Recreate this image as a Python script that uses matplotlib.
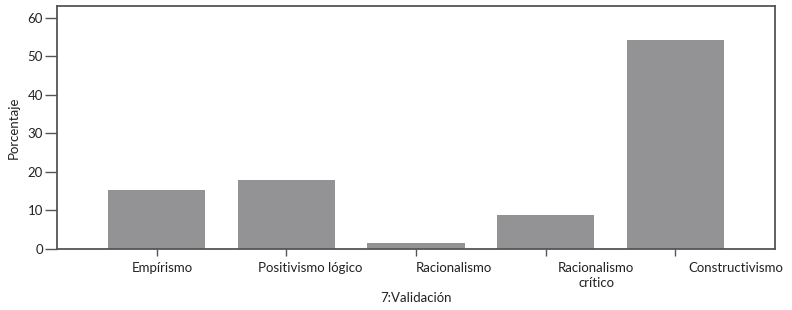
import matplotlib
matplotlib.use("Agg")
import matplotlib.pyplot as plt

categorias = ["Empírismo", "Positivismo lógico", "Racionalismo", "Racionalismo\ncrítico", "Constructivismo"]
porcentaje = [15.3, 18.0, 1.6, 8.8, 54.4]
yticks = [0, 10, 20, 30, 40, 50, 60]

plt.rcParams['font.family'] = ['Lato', 'DejaVu Sans']

fig = plt.figure(figsize=(7.92, 3.10), dpi=100)
ax = fig.add_axes([57/792, 1-249/310, (775-57)/792, (249-6)/310])

x = list(range(len(categorias)))
ax.bar(x, porcentaje, width=0.75, color="#939396")

ax.set_xlim(-0.77, 4.77)
ax.set_ylim(0, 63.1)

# ticks at bar centres, labels drawn a bit to the right like in the original
ax.set_xticks(x)
ax.set_xticklabels([])
ax.tick_params(axis='x', which='major', direction='out', length=5, width=1, color="#555555")
pos_labels = [0.04, 1.18, 2.29, 3.39, 4.47]
ax.set_xticks(pos_labels, minor=True)
ax.set_xticklabels(categorias, minor=True, fontsize=9.5, color="#222222", linespacing=1.35)
ax.tick_params(axis='x', which='minor', length=0, pad=9)

ax.set_yticks(yticks)
ax.set_yticklabels([str(v) for v in yticks], fontsize=9.5, color="#222222")
ax.tick_params(axis='y', direction='out', length=9, width=1, color="#555555", pad=1)

for s in ax.spines.values():
    s.set_color("#555555")
    s.set_linewidth(1.3)

ax.set_ylabel("Porcentaje", fontsize=9.5, color="#222222")
ax.yaxis.set_label_coords(-(57-20)/718, 0.5)
fig.text(416/792, 1-298/310, "7:Validación", fontsize=9.5, color="#222222", ha="center", va="center")

fig.savefig("out.png", dpi=100)
